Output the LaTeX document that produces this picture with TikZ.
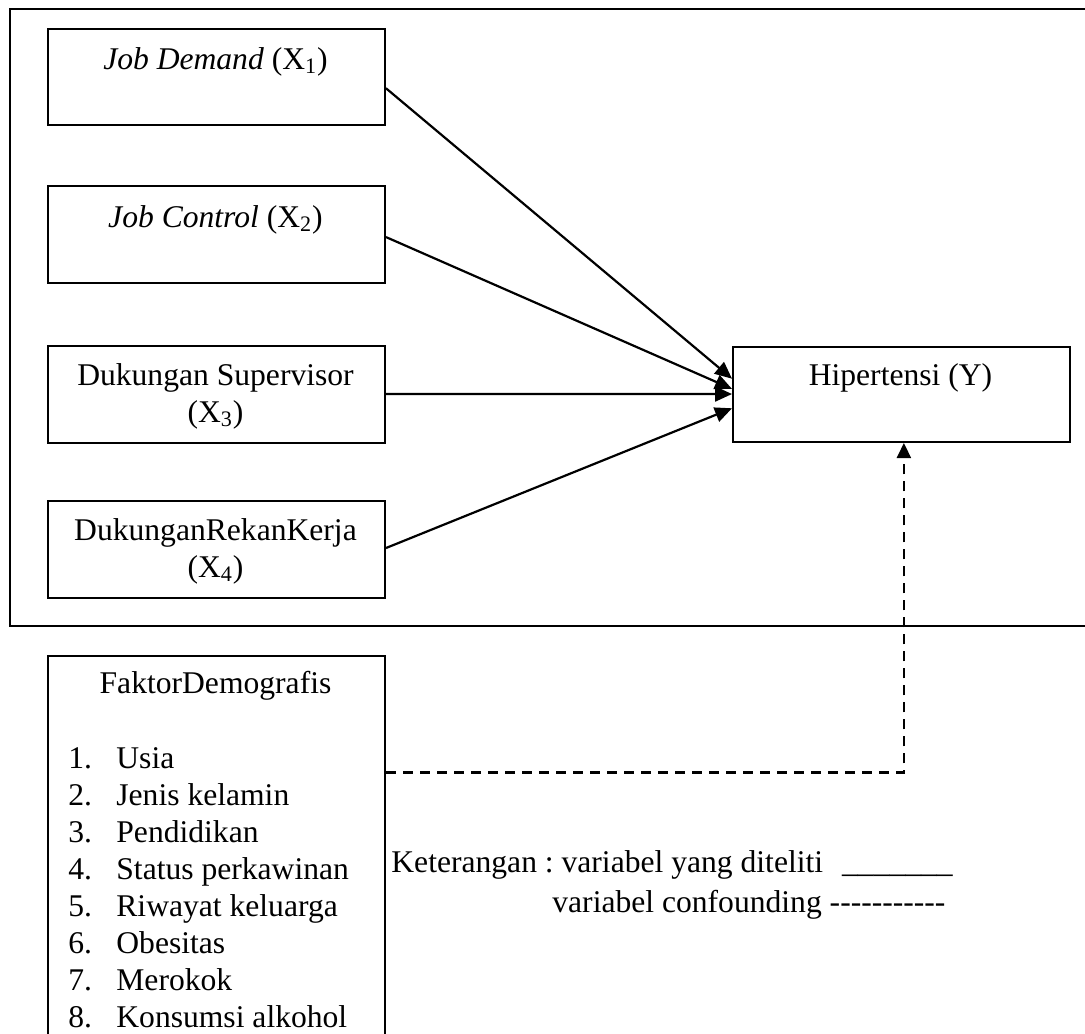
\documentclass[tikz,border=0pt]{standalone}
\usepackage{fontspec}
\setmainfont{Liberation Serif}
\usetikzlibrary{arrows.meta,calc}
\newcommand\onehy{\mbox{-}}
\frenchspacing
\begin{document}
\begin{tikzpicture}[x=0.5pt,y=-0.5pt,
  box/.style={draw,line width=1pt,minimum width=168.5pt,minimum height=48pt,inner sep=0pt,anchor=north west},
  txt/.style={inner sep=0pt,anchor=base,font=\fontsize{15.8pt}{18pt}\selectfont},
  arr/.style={line width=1.1pt,-{Triangle[length=8.5pt,width=7.5pt]}},
  darr/.style={line width=1.1pt,dash pattern=on 5pt off 3.5pt,-{Triangle[length=7.5pt,width=7pt]}}]
\useasboundingbox (0,0) rectangle (1085,1033);
\clip (0,0) rectangle (1085,1033);
\fill[white] (0,0) rectangle (1085,1033);
% outer frame
\draw[line width=0.9pt] (10,9) rectangle (1110,626);
% boxes
\node[box] (x1) at (47,28) {};
\node[box,minimum height=48.5pt] (x2) at (47,185) {};
\node[box,minimum height=48.5pt] (x3) at (47,345) {};
\node[box,minimum height=48.5pt] (x4) at (47,500) {};
\node[box,minimum height=47.5pt] (y) at (732,346) {};
\node[box,minimum height=200pt] (fd) at (47,655) {};
% texts
\node[txt] (t1) at (215.5,69) {\textit{Job Demand} (X\textsubscript{1})};
\node[txt] (t2) at (215.5,227) {\textit{Job Control} (X\textsubscript{2})};
\node[txt] (t3a) at (215.5,385) {Dukungan Supervisor};
\node[txt] (t3b) at (215.5,422) {(X\textsubscript{3})};
\node[txt] (t4a) at (215.5,540) {DukunganRekanKerja};
\node[txt] (t4b) at (215.5,577) {(X\textsubscript{4})};
\node[txt] (ty) at (900.5,385) {Hipertensi (Y)};
\node[txt] (tfd) at (215.5,693) {FaktorDemografis};
\foreach \i/\t in {1/Usia,2/Jenis kelamin,3/Pendidikan,4/Status perkawinan,5/Riwayat keluarga,6/Obesitas,7/Merokok,8/Konsumsi alkohol}{
  \node[txt,anchor=base west] (n\i) at (68,{731+37*\i}) {\i.};
  \node[txt,anchor=base west] (l\i) at (116,{731+37*\i}) {\t};
}
% arrows
\draw[arr] ($(x1.north east)!0.615!(x1.south east)$) -- ($(y.north west)!0.337!(y.south west)$);
\draw[arr] ($(x2.north east)!0.526!(x2.south east)$) -- ($(y.north west)!0.442!(y.south west)$);
\draw[arr] ($(x3.north east)!0.495!(x3.south east)$) -- ($(y.north west)!0.495!(y.south west)$);
\draw[arr] ($(x4.north east)!0.485!(x4.south east)$) -- ($(y.north west)!0.642!(y.south west)$);
\draw[darr] ($(fd.north east)!0.2925!(fd.south east)$) -| ($(y.south west)!0.507!(y.south east)$);
% legend
\node[txt,anchor=base west] (k1) at (391,872) {Keterangan : variabel yang diteliti\hspace{9.5pt}\_\_\_\_\_\_\_};
\node[txt,anchor=base west] (k2) at (552,912) {variabel confounding \onehy\onehy\onehy\onehy\onehy\onehy\onehy\onehy\onehy\onehy\onehy};
\end{tikzpicture}
\end{document}
